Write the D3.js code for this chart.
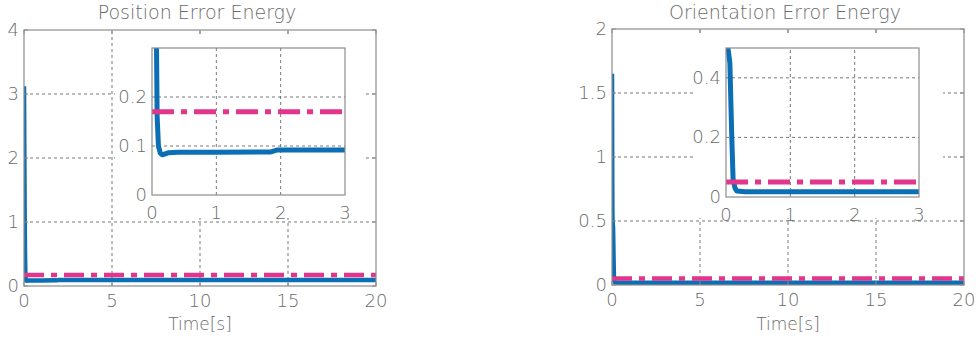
<!DOCTYPE html>
<html><head><meta charset="utf-8">
<script src="https://cdn.jsdelivr.net/npm/d3@7"></script>
<style>
html,body{margin:0;padding:0;background:#fff;}
svg text{font-family:"DejaVu Sans",sans-serif;font-weight:200;fill:#6a6a6a;}
</style></head>
<body>
<svg id="c" width="977" height="341"></svg>
<script>
// ---------- data ----------
const timeTicks = [0, 5, 10, 15, 20];
const insetTimeTicks = [0, 1, 2, 3];
const posTicks = [0, 1, 2, 3, 4];
const oriTicks = [0, 0.5, 1, 1.5, 2];
const posInsetTicks = [0, 0.1, 0.2];
const oriInsetTicks = [0, 0.2, 0.4];

const posTime   = [0, 0.02, 0.04, 0.06, 0.08, 0.1, 0.13, 0.16, 0.25, 0.4, 1.0, 1.85, 1.95, 3, 20];
const posEnergy = [3.12, 2.0, 1.0, 0.45, 0.16, 0.1, 0.085, 0.082, 0.086, 0.087, 0.087, 0.088, 0.092, 0.092, 0.092];
const oriTime   = [0, 0.01, 0.02, 0.03, 0.06, 0.09, 0.11, 0.14, 0.17, 0.3, 3, 20];
const oriEnergy = [1.65, 1.0, 0.6, 0.5, 0.45, 0.2, 0.06, 0.03, 0.02, 0.018, 0.018, 0.018];
const posThreshold = 0.17;
const oriThreshold = 0.05;
const titles = ["Position Error Energy", "Orientation Error Energy"];
const xLabel = "Time[s]";

// ---------- drawing ----------
const svg = d3.select("#c");
const BLUE = "#0a6fb4", PINK = "#e2358c", BOX = "#8c8c8c", GRID = "#555";

function fmt(v){ return String(+v.toFixed(2)); }

function drawPanel(cfg){
  const g = svg.append("g");
  const x = d3.scaleLinear().domain([0, 20]).range(cfg.xr);
  const y = d3.scaleLinear().domain(cfg.yd).range(cfg.yr);
  const id = "clip" + cfg.k;
  svg.append("clipPath").attr("id", id).append("rect")
    .attr("x", cfg.xr[0]).attr("y", cfg.yr[1]).attr("width", cfg.xr[1]-cfg.xr[0]).attr("height", cfg.yr[0]-cfg.yr[1]);

  // grid
  const inner = (arr, d) => arr.filter(v => v !== d[0] && v !== d[1]);
  g.selectAll(".vg").data(inner(timeTicks, x.domain())).join("line")
    .attr("x1", d=>x(d)).attr("x2", d=>x(d)).attr("y1", cfg.yr[0]).attr("y2", cfg.yr[1])
    .attr("stroke", GRID).attr("stroke-width", 0.8).attr("stroke-dasharray", "3,3");
  g.selectAll(".hg").data(inner(cfg.yt, y.domain())).join("line")
    .attr("y1", d=>y(d)).attr("y2", d=>y(d)).attr("x1", cfg.xr[0]).attr("x2", cfg.xr[1])
    .attr("stroke", GRID).attr("stroke-width", 0.8).attr("stroke-dasharray", "3,3");

  // lines
  const line = d3.line().x(d=>x(d[0])).y(d=>y(d[1]));
  const lg = g.append("g").attr("clip-path", `url(#${id})`);
  lg.append("path").datum(d3.zip(cfg.t, cfg.v)).attr("d", line)
    .attr("fill", "none").attr("stroke", BLUE).attr("stroke-width", 4.5).attr("stroke-linejoin", "round");
  lg.append("path").datum([[0, cfg.th], [20, cfg.th]]).attr("d", line)
    .attr("fill", "none").attr("stroke", PINK).attr("stroke-width", 4.5).attr("stroke-dasharray", "20,7,6,7");

  // white area behind inset (with its labels)
  g.append("rect").attr("x", cfg.white[0]).attr("y", cfg.white[1])
    .attr("width", cfg.white[2]-cfg.white[0]).attr("height", cfg.white[3]-cfg.white[1]).attr("fill", "#fff");

  // main box + ticks
  g.append("rect").attr("x", cfg.xr[0]).attr("y", cfg.yr[1]).attr("width", cfg.xr[1]-cfg.xr[0])
    .attr("height", cfg.yr[0]-cfg.yr[1]).attr("fill", "none").attr("stroke", BOX).attr("stroke-width", 1.2);
  const tl = 4;
  g.selectAll(".xt").data(timeTicks).join("path")
    .attr("d", d=>`M${x(d)},${cfg.yr[0]}v${-tl}M${x(d)},${cfg.yr[1]}v${tl}`).attr("stroke", BOX).attr("stroke-width", 1);
  g.selectAll(".yt").data(cfg.yt).join("path")
    .attr("d", d=>`M${cfg.xr[0]},${y(d)}h${tl}M${cfg.xr[1]},${y(d)}h${-tl}`).attr("stroke", BOX).attr("stroke-width", 1);

  g.selectAll(".xl").data(timeTicks).join("text")
    .attr("x", d=>x(d)).attr("y", cfg.yr[0]+21).attr("text-anchor", "middle").attr("font-size", 18).text(fmt);
  g.selectAll(".yl").data(cfg.yt).join("text")
    .attr("x", cfg.xr[0]-5).attr("y", d=>y(d)+6).attr("text-anchor", "end").attr("font-size", 18).text(fmt);
  g.append("text").attr("x", (cfg.xr[0]+cfg.xr[1])/2 - 3).attr("y", 19).attr("text-anchor", "middle")
    .attr("font-size", 19).text(cfg.title);
  g.append("text").attr("x", x(10)).attr("y", 330).attr("text-anchor", "middle")
    .attr("font-size", 17).text(xLabel);

  // ---- inset ----
  const ig = svg.append("g");
  const ix = d3.scaleLinear().domain([0, 3]).range(cfg.ixr);
  const iy = d3.scaleLinear().domain(cfg.iyd).range(cfg.iyr);
  const iid = "iclip" + cfg.k;
  svg.append("clipPath").attr("id", iid).append("rect")
    .attr("x", cfg.ixr[0]).attr("y", cfg.iyr[1]).attr("width", cfg.ixr[1]-cfg.ixr[0]).attr("height", cfg.iyr[0]-cfg.iyr[1]);
  const iInnerY = cfg.iyt.filter(v => v > cfg.iyd[0] && v < cfg.iyd[1]);
  ig.selectAll(".ivg").data(insetTimeTicks.filter(v=>v>0 && v<3)).join("line")
    .attr("x1", d=>ix(d)).attr("x2", d=>ix(d)).attr("y1", cfg.iyr[0]).attr("y2", cfg.iyr[1])
    .attr("stroke", GRID).attr("stroke-width", 0.8).attr("stroke-dasharray", "3,3");
  ig.selectAll(".ihg").data(iInnerY).join("line")
    .attr("y1", d=>iy(d)).attr("y2", d=>iy(d)).attr("x1", cfg.ixr[0]).attr("x2", cfg.ixr[1])
    .attr("stroke", GRID).attr("stroke-width", 0.8).attr("stroke-dasharray", "3,3");
  const iline = d3.line().x(d=>ix(d[0])).y(d=>iy(d[1]));
  const ilg = ig.append("g").attr("clip-path", `url(#${iid})`);
  ilg.append("path").datum(d3.zip(cfg.t, cfg.v)).attr("d", iline)
    .attr("fill", "none").attr("stroke", BLUE).attr("stroke-width", 5).attr("stroke-linejoin", "round");
  ilg.append("path").datum([[0, cfg.th], [3, cfg.th]]).attr("d", iline)
    .attr("fill", "none").attr("stroke", PINK).attr("stroke-width", 5).attr("stroke-dasharray", "22,7,6,7");
  ig.append("rect").attr("x", cfg.ixr[0]).attr("y", cfg.iyr[1]).attr("width", cfg.ixr[1]-cfg.ixr[0])
    .attr("height", cfg.iyr[0]-cfg.iyr[1]).attr("fill", "none").attr("stroke", BOX).attr("stroke-width", 1.2);
  ig.selectAll(".ixl").data(insetTimeTicks).join("text")
    .attr("x", d=>ix(d)).attr("y", cfg.iyr[0]+24).attr("text-anchor", "middle").attr("font-size", 18).text(fmt);
  ig.selectAll(".iyl").data(cfg.iyt).join("text")
    .attr("x", cfg.ixr[0]-5).attr("y", d=>iy(d)+6).attr("text-anchor", "end").attr("font-size", 18).text(fmt);
}

drawPanel({k:0, title: titles[0], xr:[24,376], yr:[286,30], yd:[0,4], yt:posTicks,
  t:posTime, v:posEnergy, th:posThreshold, white:[115,35,363,218],
  ixr:[152,345], iyr:[195,48], iyd:[0,0.3], iyt:posInsetTicks});
drawPanel({k:1, title: titles[1], xr:[612,964], yr:[285,29], yd:[0,2], yt:oriTicks,
  t:oriTime, v:oriEnergy, th:oriThreshold, white:[693,35,943,218],
  ixr:[726,919], iyr:[197,48], iyd:[0,0.5], iyt:oriInsetTicks});
</script>
</body></html>
